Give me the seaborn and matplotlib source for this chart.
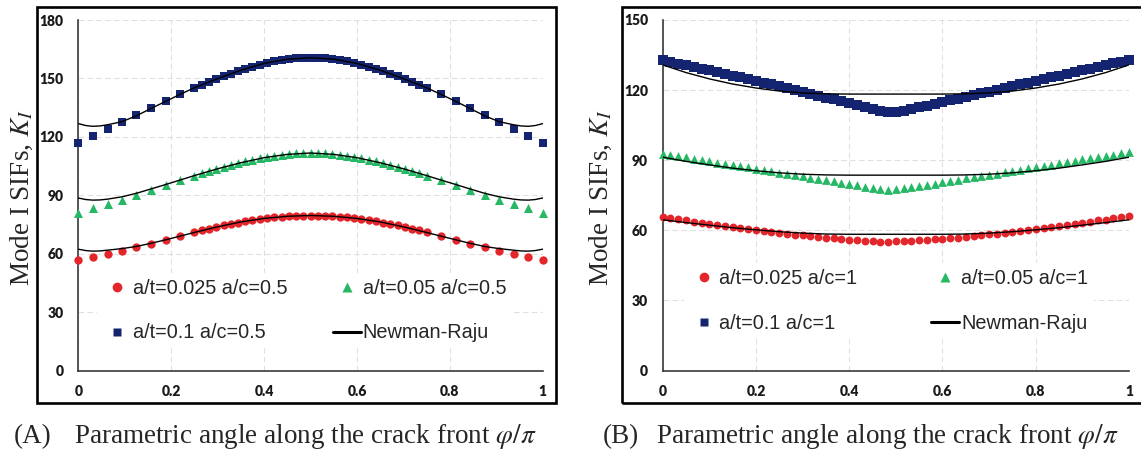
import numpy as np
import pandas as pd
import matplotlib
matplotlib.use("Agg")
import matplotlib.pyplot as plt
import seaborn as sns
from matplotlib.lines import Line2D
from matplotlib.patches import Rectangle

# ---------------- data ----------------
# Panel A (a/c = 0.5): FE results
xa = [0, 0.031, 0.063, 0.094, 0.125, 0.156, 0.188, 0.219, 0.25, 0.266, 0.281, 0.297,
      0.313, 0.328, 0.344, 0.359, 0.375, 0.391, 0.406, 0.422, 0.438, 0.453, 0.469, 0.484,
      0.5, 0.516, 0.531, 0.547, 0.563, 0.578, 0.594, 0.609, 0.625, 0.641, 0.656, 0.672,
      0.688, 0.703, 0.719, 0.734, 0.75, 0.781, 0.813, 0.844, 0.875, 0.906, 0.938, 0.969, 1]
red_a = [57.0, 58.3, 59.8, 61.4, 63.2, 65.1, 67.1, 69.0, 70.9, 71.9, 72.8, 73.7, 74.5,
         75.3, 76.0, 76.7, 77.3, 77.8, 78.3, 78.7, 79.0, 79.2, 79.4, 79.5, 79.5, 79.5,
         79.4, 79.2, 79.0, 78.7, 78.3, 77.8, 77.3, 76.7, 76.0, 75.3, 74.5, 73.7, 72.8,
         71.9, 70.9, 69.0, 67.1, 65.1, 63.2, 61.4, 59.8, 58.3, 57.0]
green_a = [81.0, 83.3, 85.6, 87.8, 90.2, 92.6, 95.1, 97.6, 100.0, 101.2, 102.3, 103.4,
           104.5, 105.5, 106.5, 107.4, 108.3, 109.1, 109.8, 110.4, 110.9, 111.3, 111.6,
           111.8, 111.9, 111.8, 111.6, 111.3, 110.9, 110.4, 109.8, 109.1, 108.3, 107.4,
           106.5, 105.5, 104.5, 103.4, 102.3, 101.2, 100.0, 97.6, 95.1, 92.6, 90.2, 87.8,
           85.6, 83.3, 81.0]
blue_a = [117.0, 120.3, 123.8, 127.4, 131.0, 134.6, 138.3, 141.8, 145.2, 146.8, 148.3,
          149.8, 151.2, 152.5, 153.8, 155.0, 156.1, 157.1, 158.0, 158.8, 159.5, 160.0,
          160.4, 160.6, 160.7, 160.6, 160.4, 160.0, 159.5, 158.8, 158.0, 157.1, 156.1,
          155.0, 153.8, 152.5, 151.2, 149.8, 148.3, 146.8, 145.2, 141.8, 138.3, 134.6,
          131.0, 127.4, 123.8, 120.3, 117.0]
# Panel A: Newman-Raju
xn_a = [0, 0.016, 0.031, 0.047, 0.063, 0.094, 0.125, 0.156, 0.188, 0.219, 0.25, 0.3,
        0.35, 0.4, 0.45, 0.5, 0.55, 0.6, 0.65, 0.7, 0.75, 0.781, 0.813, 0.844, 0.875,
        0.906, 0.937, 0.953, 0.969, 0.984, 1]
nr_red_a = [62.3, 61.6, 61.3, 61.4, 61.8, 62.6, 63.7, 65.3, 67.1, 69.0, 70.9, 73.8, 76.3,
            78.1, 79.2, 79.6, 79.2, 78.1, 76.3, 73.8, 70.9, 69.0, 67.1, 65.3, 63.7, 62.6,
            61.8, 61.4, 61.3, 61.6, 62.3]
nr_green_a = [88.6, 87.8, 87.5, 87.6, 88.0, 89.2, 91.0, 93.2, 95.5, 97.8, 100.1, 103.6,
              106.7, 109.3, 111.0, 111.7, 111.0, 109.3, 106.7, 103.6, 100.1, 97.8, 95.5,
              93.2, 91.0, 89.2, 88.0, 87.6, 87.5, 87.8, 88.6]
nr_blue_a = [126.8, 125.8, 125.4, 125.6, 126.2, 127.8, 130.8, 134.5, 138.2, 141.8, 145.2,
             149.9, 154.2, 157.7, 159.9, 160.6, 159.9, 157.7, 154.2, 149.9, 145.2, 141.8,
             138.2, 134.5, 130.8, 127.8, 126.2, 125.6, 125.4, 125.8, 126.8]

# Panel B (a/c = 1): FE results
xb = [0, 0.0167, 0.0333, 0.05, 0.0667, 0.0833, 0.1, 0.1167, 0.1333, 0.15, 0.1667, 0.1833,
      0.2, 0.2167, 0.2333, 0.25, 0.2667, 0.2833, 0.3, 0.3167, 0.3333, 0.35, 0.3667, 0.3833,
      0.4, 0.4167, 0.4333, 0.45, 0.4667, 0.4833, 0.5, 0.5167, 0.5333, 0.55, 0.5667, 0.5833,
      0.6, 0.6167, 0.6333, 0.65, 0.6667, 0.6833, 0.7, 0.7167, 0.7333, 0.75, 0.7667, 0.7833,
      0.8, 0.8167, 0.8333, 0.85, 0.8667, 0.8833, 0.9, 0.9167, 0.9333, 0.95, 0.9667, 0.9833, 1]
red_b = [65.8, 65.3, 64.7, 64.2, 63.7, 63.2, 62.7, 62.3, 61.8, 61.4, 61.0, 60.6, 60.1,
         59.7, 59.3, 58.9, 58.5, 58.1, 57.8, 57.4, 57.1, 56.8, 56.5, 56.2, 55.9, 55.7,
         55.5, 55.3, 55.2, 55.2, 55.3, 55.4, 55.5, 55.7, 55.9, 56.1, 56.3, 56.6, 56.9,
         57.2, 57.5, 57.9, 58.3, 58.6, 59.0, 59.4, 59.8, 60.2, 60.6, 61.0, 61.5, 61.9,
         62.4, 62.8, 63.2, 63.7, 64.2, 64.6, 65.1, 65.6, 66.1]
green_b = [92.8, 92.3, 91.7, 91.2, 90.6, 90.1, 89.6, 89.0, 88.5, 87.9, 87.4, 86.9, 86.3,
           85.8, 85.2, 84.7, 84.2, 83.6, 83.1, 82.5, 82.0, 81.4, 80.9, 80.4, 79.8, 79.3,
           78.7, 78.2, 77.7, 77.4, 77.5, 77.9, 78.4, 78.9, 79.5, 80.0, 80.6, 81.1, 81.6,
           82.2, 82.7, 83.3, 83.8, 84.3, 84.9, 85.4, 86.0, 86.5, 87.0, 87.6, 88.1, 88.7,
           89.2, 89.7, 90.3, 90.8, 91.4, 91.9, 92.4, 92.9, 93.3]
blue_b = [132.8, 132.1, 131.3, 130.6, 129.9, 129.1, 128.4, 127.7, 126.9, 126.2, 125.5,
          124.7, 124.0, 123.2, 122.4, 121.6, 120.8, 120.0, 119.2, 118.4, 117.6, 116.8,
          116.0, 115.2, 114.4, 113.6, 112.8, 112.0, 111.2, 110.6, 110.6, 111.2, 111.9,
          112.6, 113.4, 114.1, 114.9, 115.6, 116.4, 117.1, 117.9, 118.6, 119.4, 120.1,
          120.9, 121.6, 122.4, 123.1, 123.9, 124.6, 125.4, 126.1, 126.9, 127.6, 128.4,
          129.1, 129.9, 130.6, 131.4, 132.2, 133.0]
# Panel B: Newman-Raju
xn_b = [0, 0.05, 0.1, 0.15, 0.2, 0.25, 0.3, 0.35, 0.4, 0.45, 0.5, 0.55, 0.6, 0.65, 0.7,
        0.75, 0.8, 0.85, 0.9, 0.95, 1]
nr_red_b = [64.5, 63.3, 62.2, 61.1, 60.2, 59.4, 58.8, 58.4, 58.3, 58.3, 58.3, 58.3, 58.3,
            58.4, 58.8, 59.4, 60.2, 61.1, 62.2, 63.3, 64.5]
nr_green_b = [91.3, 89.5, 88.0, 86.6, 85.5, 84.6, 84.0, 83.7, 83.6, 83.6, 83.6, 83.6, 83.6,
              83.7, 84.0, 84.6, 85.5, 86.6, 88.0, 89.5, 91.3]
nr_blue_b = [130.8, 127.5, 124.8, 122.6, 120.9, 119.6, 118.8, 118.4, 118.3, 118.3, 118.3,
             118.3, 118.3, 118.4, 118.8, 119.6, 120.9, 122.6, 124.8, 127.5, 130.8]

x_ticks = [0, 0.2, 0.4, 0.6, 0.8, 1]
x_ticklabels = ["0", "0.2", "0.4", "0.6", "0.8", "1"]
y_ticks_a = [0, 30, 60, 90, 120, 150, 180]
y_ticks_b = [0, 30, 60, 90, 120, 150]

labels_a = ["a/t=0.025 a/c=0.5", "a/t=0.1 a/c=0.5", "a/t=0.05 a/c=0.5", "Newman-Raju"]
labels_b = ["a/t=0.025 a/c=1", "a/t=0.1 a/c=1", "a/t=0.05 a/c=1", "Newman-Raju"]
ylabel = "Mode I SIFs, $K_I$"
xlabel = "Parametric angle along the crack front $\\varphi/\\pi$"

# ---------------- style ----------------
sns.set_style("white")
plt.rcParams["font.family"] = ["Liberation Sans", "DejaVu Sans"]
plt.rcParams["mathtext.fontset"] = "stix"

RED = "#e3262b"
GREEN = "#27b865"
NAVY = "#152470"
AXC = "#3a3a3a"

W, H = 1141, 455
fig = plt.figure(figsize=(W / 100, H / 100), dpi=100)


def rect(l, r, t, b):
    return [l / W, 1 - b / H, (r - l) / W, (b - t) / H]


axA = fig.add_axes(rect(78.3, 542.7, 20, 370.5))
axB = fig.add_axes(rect(662.7, 1129, 20, 370.5))


def draw(ax, x, reds, greens, blues, xn, nrs, sizes):
    df = pd.DataFrame({"x": x, "red": reds, "green": greens, "blue": blues})
    for col, c, m, s in [("red", RED, "o", sizes[0]), ("green", GREEN, "^", sizes[1]),
                         ("blue", NAVY, "s", sizes[2])]:
        sns.scatterplot(data=df, x="x", y=col, ax=ax, color=c, marker=m, s=s,
                        linewidth=0, clip_on=False, legend=False, zorder=3)
    dn = pd.DataFrame({"x": xn, "a": nrs[0], "b": nrs[1], "c": nrs[2]})
    for col in ["a", "b", "c"]:
        sns.lineplot(data=dn, x="x", y=col, ax=ax, color="black", lw=1.0,
                     estimator=None, sort=False, legend=False, zorder=4)


def style(ax, yticks):
    ax.set_xlim(0, 1)
    ax.set_ylim(0, yticks[-1])
    ax.set_xticks(x_ticks)
    ax.set_xticklabels(x_ticklabels)
    ax.set_yticks(yticks)
    ax.set_yticklabels([str(v) for v in yticks])
    ax.set_xlabel("")
    ax.set_ylabel("")
    for s in ["top", "right"]:
        ax.spines[s].set_visible(False)
    for s in ["left", "bottom"]:
        ax.spines[s].set_color(AXC)
        ax.spines[s].set_linewidth(1.2)
    ax.tick_params(direction="in", length=3.5, width=1.0, color=AXC,
                   labelsize=10, labelcolor="#1a1a1a", pad=10.5)
    for lab in ax.get_xticklabels() + ax.get_yticklabels():
        lab.set_fontfamily("Lato")
        lab.set_fontweight("heavy")
    ax.grid(True, color="#e0e0e0", linestyle=(0, (5, 3)), lw=0.8)
    ax.set_axisbelow(True)
    ax.patch.set_alpha(0)


def legend(ax, labels, anchor, colsp):
    hs = [Line2D([], [], ls="", marker="o", color=RED, markersize=7, mec="none"),
          Line2D([], [], ls="", marker="s", color=NAVY, markersize=6, mec="none"),
          Line2D([], [], ls="", marker="^", color=GREEN, markersize=7, mec="none"),
          Line2D([], [], color="black", lw=2.2)]
    lg = ax.legend(hs, labels, ncol=2, loc="center", bbox_to_anchor=anchor,
                   frameon=True, framealpha=1, facecolor="white", edgecolor="none",
                   fancybox=False, fontsize=14.3, handlelength=1.4, handletextpad=0.1,
                   columnspacing=colsp, labelspacing=1.3, borderpad=0.3)
    for t in lg.get_texts():
        t.set_color("#262626")
    lg.set_zorder(5)


draw(axA, xa, red_a, green_a, blue_a, xn_a, [nr_red_a, nr_green_a, nr_blue_a], (36, 42, 30))
draw(axB, xb, red_b, green_b, blue_b, xn_b, [nr_red_b, nr_green_b, nr_blue_b], (32, 40, 44))
style(axA, y_ticks_a)
style(axB, y_ticks_b)
legend(axA, labels_a, (0.487, 0.171), 2.3)
legend(axB, labels_b, (0.485, 0.199), 3.7)

# panel frames
for l, r in [(37, 556), (621.7, 1143)]:
    fig.add_artist(Rectangle((l / W, 1 - 402.7 / H), (r - l) / W, (402.7 - 7.3) / H,
                             transform=fig.transFigure, fill=False, lw=1.9, ec="black"))

serif = ["Liberation Serif", "DejaVu Serif"]
fig.text(22 / W, 1 - 198 / H, ylabel, rotation=90, ha="center", va="center",
         fontsize=19.5, family=serif)
fig.text(601 / W, 1 - 198 / H, ylabel, rotation=90, ha="center", va="center",
         fontsize=19.5, family=serif)
fig.text(14 / W, 1 - 443 / H, "(A)", ha="left", va="baseline", fontsize=19.5, family=serif)
fig.text(73.5 / W, 1 - 443 / H, xlabel, ha="left", va="baseline", fontsize=19.5, family=serif)
fig.text(603 / W, 1 - 443 / H, "(B)", ha="left", va="baseline", fontsize=19.5, family=serif)
fig.text(656 / W, 1 - 443 / H, xlabel, ha="left", va="baseline", fontsize=19.5, family=serif)

fig.savefig("out.png", dpi=100)
